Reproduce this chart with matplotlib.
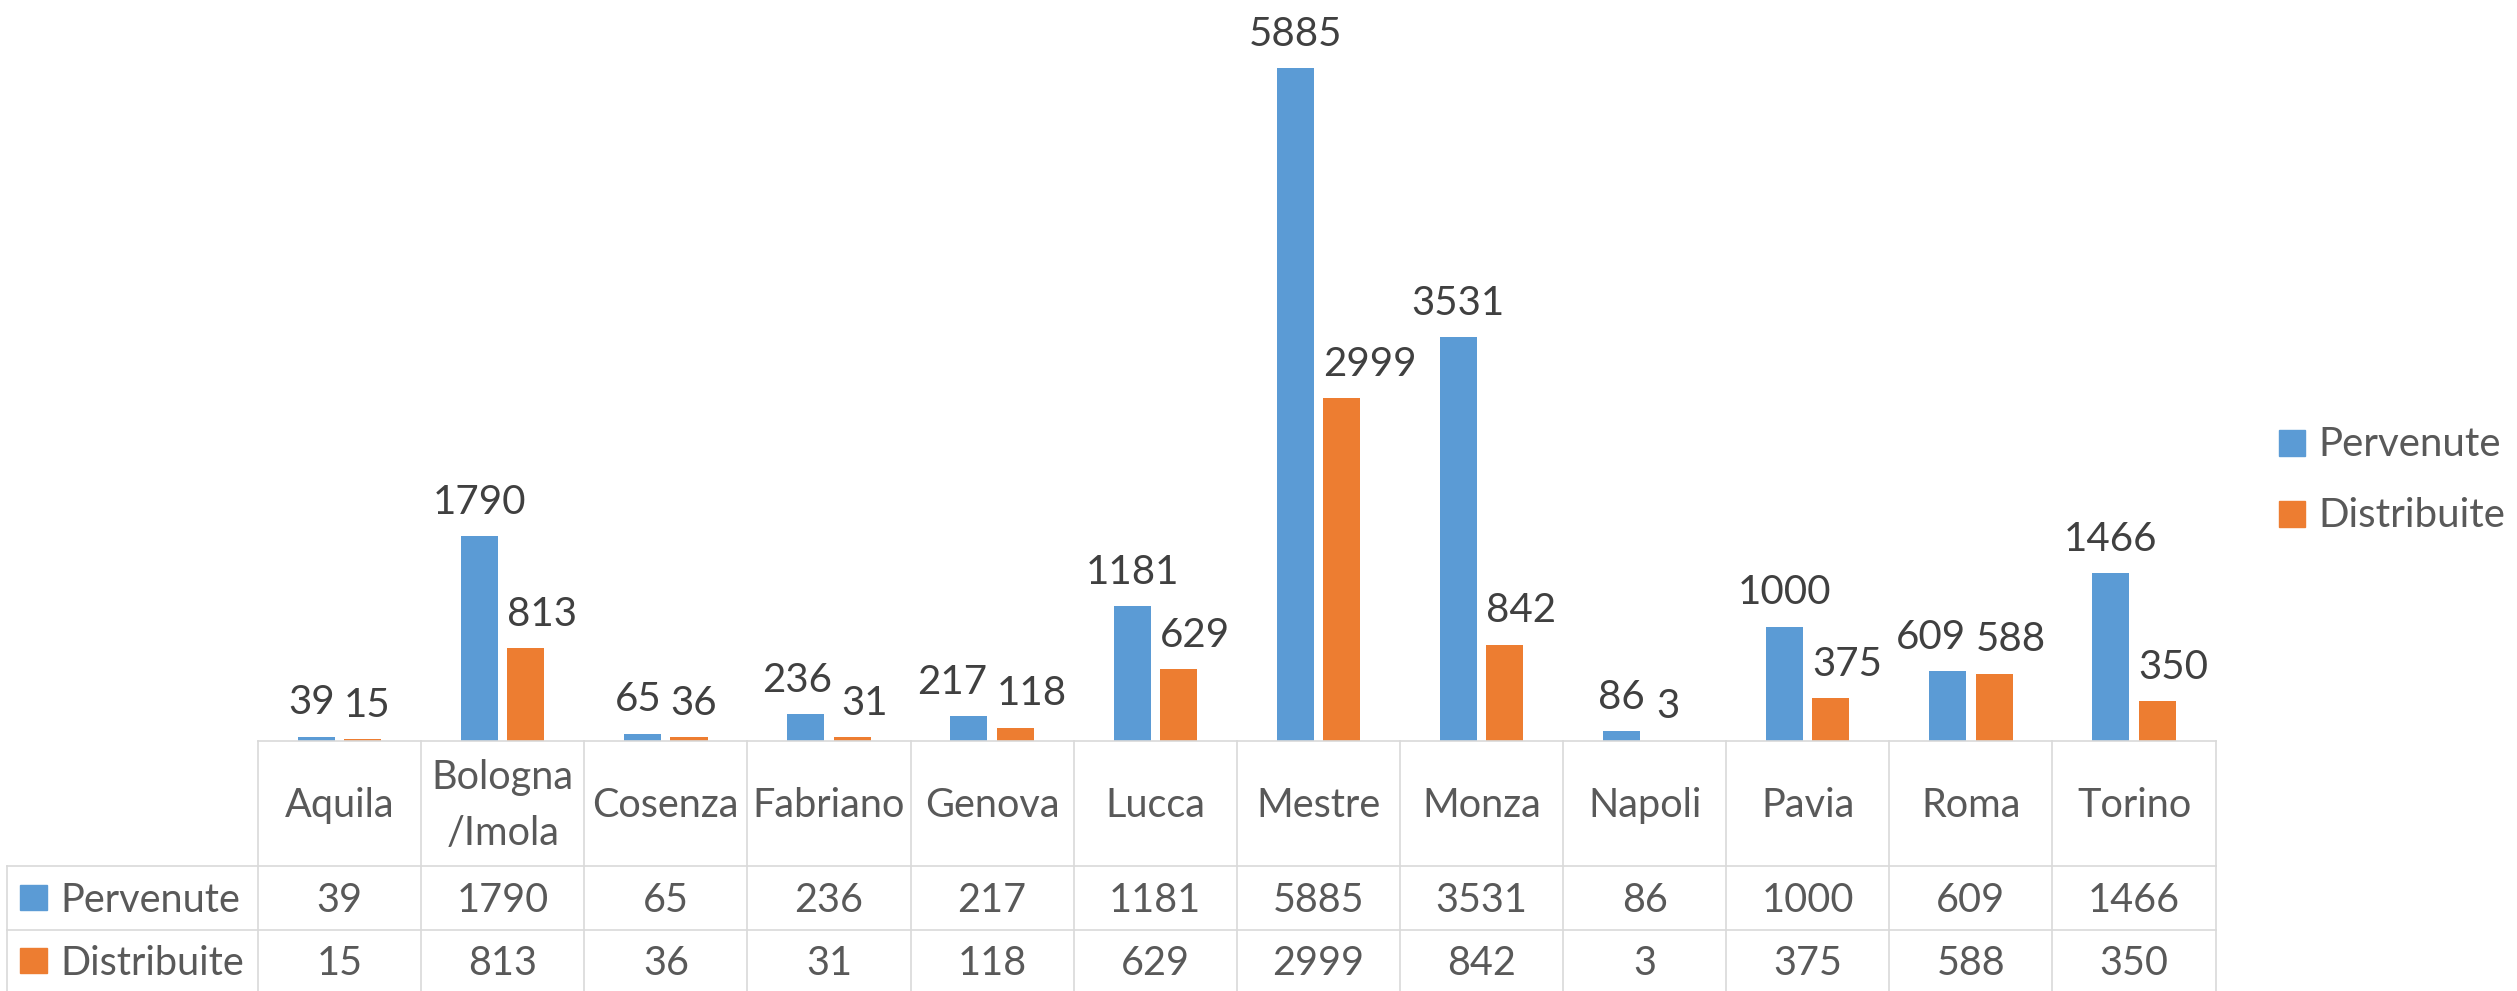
import numpy as np
import matplotlib
matplotlib.use('Agg')
import matplotlib.pyplot as plt
from matplotlib.transforms import blended_transform_factory
from matplotlib.patches import Rectangle

cities = ['Aquila', 'Bologna\n/Imola', 'Cosenza', 'Fabriano', 'Genova', 'Lucca',
          'Mestre', 'Monza', 'Napoli', 'Pavia', 'Roma', 'Torino']
pervenute = [39, 1790, 65, 236, 217, 1181, 5885, 3531, 86, 1000, 609, 1466]
distribuite = [15, 813, 36, 31, 118, 629, 2999, 842, 3, 375, 588, 350]
series = ['Pervenute', 'Distribuite']
values = [pervenute, distribuite]
colors = ['#5B9BD5', '#ED7D31']

plt.rcParams['font.family'] = ['Lato', 'DejaVu Sans']

W, H = 2517, 991
fig = plt.figure(figsize=(W / 100, H / 100), dpi=100)

# plot area in pixels (from top-left)
left, right, base = 258, 2215.6, 741
ax = fig.add_axes([left / W, 1 - base / H, (right - left) / W, base / H])

x = np.arange(len(cities))
bw = 0.227
offs = [-0.142, 0.142]
labels = []
containers = []
for vals, off, col in zip(values, offs, colors):
    bars = ax.bar(x + off, vals, bw, color=col)
    containers.append(bars)
    labels.append(ax.bar_label(bars, padding=11, fontsize=29, color='#404040'))
ax.set_xlim(-0.5, len(cities) - 0.5)
ax.set_ylim(0, 6480)
ax.set_axis_off()

# move data labels clear of the neighbouring bar / label (as Excel does)
fig.canvas.draw()
rend = fig.canvas.get_renderer()
gap = 9
pt = 72 / fig.dpi
for a, b, pbar in zip(labels[0], labels[1], containers[0].patches):
    bb = b.get_window_extent(rend)
    rb = pbar.get_window_extent(rend)
    if bb.y0 < rb.y1 and bb.x0 < rb.x1 + gap:
        b.xyann = (b.xyann[0] + (rb.x1 + gap - bb.x0) * pt, b.xyann[1])
for a, b in zip(labels[0], labels[1]):
    ba = a.get_window_extent(rend)
    bb = b.get_window_extent(rend)
    if ba.x1 + gap > bb.x0 and ba.y0 < bb.y1 - 8 and bb.y0 < ba.y1 - 8:
        shift = (ba.x1 + gap - bb.x0) / 2 * pt
        a.xyann = (a.xyann[0] - shift, a.xyann[1])
        b.xyann = (b.xyann[0] + shift, b.xyann[1])

# overlay in pixel coordinates for the data table and legend
tab = fig.add_axes([0, 0, 1, 1])
tab.set_xlim(0, W)
tab.set_ylim(H, 0)
tab.set_axis_off()
tab.patch.set_visible(False)
tr = blended_transform_factory(ax.transData, tab.transData)

grid = '#D9D9D9'
txt = '#595959'
xl = -0.5 - (left - 7) / ((right - left) / len(cities))
rows = [741, 866, 930, 991]

tab.plot([-0.5, len(cities) - 0.5], [rows[0], rows[0]], color=grid, lw=1.2, transform=tr)
for r in rows[1:3]:
    tab.plot([xl, len(cities) - 0.5], [r, r], color=grid, lw=1.2, transform=tr)
for i in range(len(cities) + 1):
    tab.plot([i - 0.5, i - 0.5], [rows[0], rows[3]], color=grid, lw=1.2, transform=tr)
tab.plot([xl, xl], [rows[1], rows[3]], color=grid, lw=1.2, transform=tr)

for i, name in enumerate(cities):
    lines = name.split('\n')
    n = len(lines)
    for k, ln in enumerate(lines):
        y = 817 + (k - (n - 1) / 2) * 56
        tab.text(i, y, ln, transform=tr, ha='center', va='baseline',
                 fontsize=28.5, color=txt)

baselines = [912, 975]
for vals, yb in zip(values, baselines):
    for i, v in enumerate(vals):
        tab.text(i, yb, str(v), transform=tr, ha='center', va='baseline',
                 fontsize=28.5, color=txt)

# row labels with colour keys
for s, col, yb in zip(series, colors, baselines):
    tab.add_patch(Rectangle((20, yb - 27), 27, 25, color=col))
    tab.text(60, yb, s, ha='left', va='baseline', fontsize=28.5, color=txt)

# legend
for s, col, yb in zip(series, colors, [456, 527]):
    tab.add_patch(Rectangle((2279, yb - 26), 26, 26, color=col))
    tab.text(2318, yb, s, ha='left', va='baseline', fontsize=29, color=txt)

fig.savefig('out.png', dpi=100)
